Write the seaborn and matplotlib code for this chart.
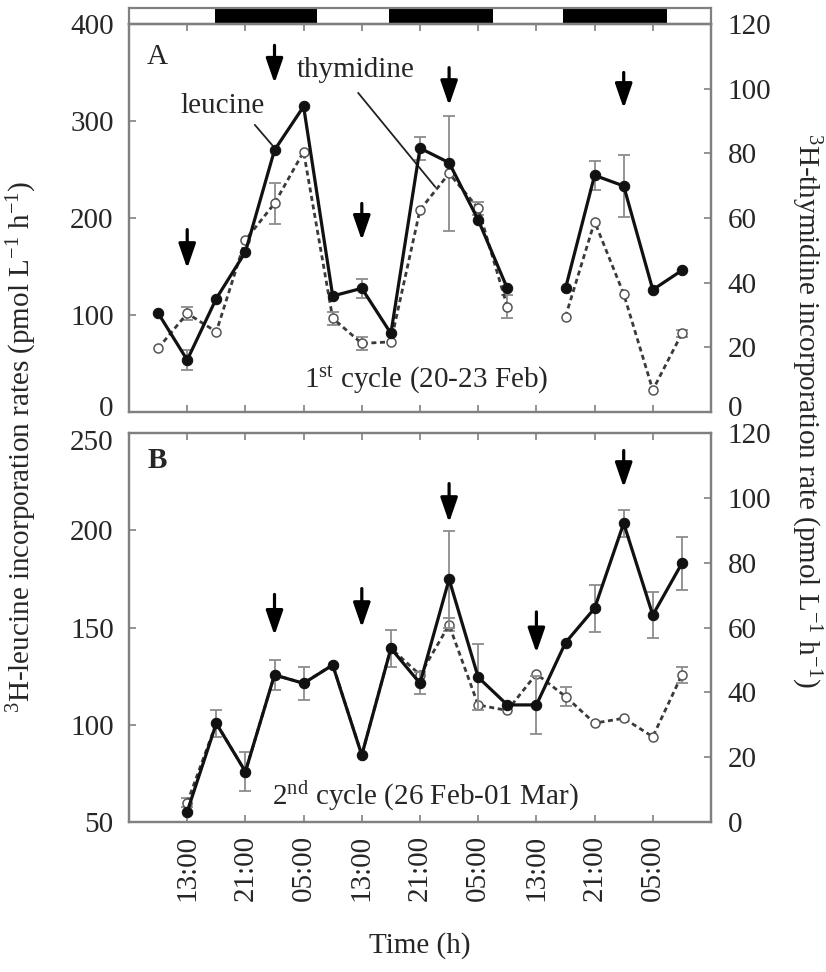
import numpy as np
import pandas as pd
import matplotlib
matplotlib.use("Agg")
import matplotlib.pyplot as plt
import matplotlib.transforms as mtransforms
import seaborn as sns

# ---------------- data (hours after 09:00 of day 1 of each cycle) ----------------
hours_a = [0, 4, 8, 12, 16, 20, 24, 28, 32, 36, 40, 44, 48, 56, 60, 64, 68, 72]
segment_a = [1] * 13 + [2] * 5
leucine_a = [102, 53.6, 117, 165, 270, 315, 119.6, 127.5, 81, 272, 257, 198, 127.5,
             127.5, 244, 233, 126, 146]
leucine_a_err = [0, 10, 0, 0, 0, 0, 0, 10, 0, 12, 0, 0, 0, 0, 15, 32, 0, 0]
thymidine_a = [19.7, 30.5, 24.8, 53.2, 64.5, 80.5, 29, 21.2, 21.7, 62.5, 73.8, 63, 32.6,
               29.5, 58.9, 36.5, 6.8, 24.3]
thymidine_a_err = [0, 2, 0, 0, 6.4, 0, 2, 2, 0, 0, 17.8, 2, 3.6, 0, 0, 0, 0, 1]

hours_b = [4, 8, 12, 16, 20, 24, 28, 32, 36, 40, 44, 48, 52, 56, 60, 64, 68, 72]
segment_b = [1] * 18
leucine_b = [55.3, 100.7, 75.9, 125.6, 121.3, 130.7, 84.4, 139.3, 121.3, 174.8, 124.4,
             110.2, 110.2, 142.2, 159.9, 203.6, 156.4, 183]
leucine_b_err = [0, 7, 10, 7.7, 8.6, 0, 0, 9.4, 5.6, 25, 17, 0, 15, 0, 12, 7, 12, 13.7]
thymidine_b = [6, 30.5, 15.5, 45.4, 42.8, 48.5, 20.7, 53.6, 45.4, 60.8, 36.1, 34.4, 45.7,
               38.7, 30.5, 32, 26.3, 45.4]
thymidine_b_err = [1.5, 0, 0, 0, 0, 0, 0, 0, 0, 2, 0, 0, 0, 3, 0, 0, 0, 2.5]

tick_hours = [4, 12, 20, 28, 36, 44, 52, 60, 68]
tick_labels = ["13:00", "21:00", "05:00"] * 3

night_start = [7.8, 31.8, 55.7]
night_end = [21.9, 46.0, 70.0]

# sampling-time arrows (x, top, tip) in leucine units
arrows_a_t = [4, 16, 28, 40, 64]
arrows_a_top = [188, 378, 215, 355, 350]
arrows_a_tip = [148, 339, 177, 316, 313]
arrows_b_t = [16, 28, 40, 52, 64]
arrows_b_top = [167, 170, 224, 158, 241]
arrows_b_tip = [146, 150, 204, 137, 222]

# ---------------- style ----------------
sns.set_theme(style="ticks")
plt.rcParams["font.family"] = ["Liberation Serif", "DejaVu Serif"]
plt.rcParams["mathtext.fontset"] = "custom"
plt.rcParams["mathtext.rm"] = "Liberation Serif"
plt.rcParams["mathtext.it"] = "Liberation Serif:italic"
plt.rcParams["mathtext.bf"] = "Liberation Serif:bold"

FS = 21
TXT = "#262626"
SP = "#808080"

df_a = pd.DataFrame({"t": hours_a, "seg": segment_a, "leu": leucine_a, "leu_err": leucine_a_err,
                     "thy": thymidine_a, "thy_err": thymidine_a_err})
df_b = pd.DataFrame({"t": hours_b, "seg": segment_b, "leu": leucine_b, "leu_err": leucine_b_err,
                     "thy": thymidine_b, "thy_err": thymidine_b_err})

W, H = 826, 972
fig = plt.figure(figsize=(W / 100, H / 100), dpi=100)
L, R = 129 / W, 711 / W
axA = fig.add_axes([L, 1 - 412 / H, R - L, (412 - 24) / H])
axB = fig.add_axes([L, 1 - 822 / H, R - L, (822 - 433) / H])
axBar = fig.add_axes([L, 1 - 24 / H, R - L, 16 / H])


def draw_panel(ax, df, ylim, yticks, arrows_t, arrows_top, arrows_tip):
    ax2 = ax.twinx()
    # thymidine (right axis)
    m = df["thy_err"] > 0
    ax2.errorbar(df.loc[m, "t"], df.loc[m, "thy"], yerr=df.loc[m, "thy_err"], fmt="none",
                 ecolor="#8c8c8c", elinewidth=1.3, capsize=4, capthick=1.3, zorder=1)
    sns.lineplot(data=df, x="t", y="thy", units="seg", estimator=None, ax=ax2,
                 color="#3a3a3a", lw=2.0, linestyle=(0, (1.8, 1.3)), marker="o",
                 markersize=6.5, markerfacecolor="white", markeredgecolor="#555555",
                 markeredgewidth=1.1, zorder=2)
    # leucine (left axis)
    m = df["leu_err"] > 0
    ax.errorbar(df.loc[m, "t"], df.loc[m, "leu"], yerr=df.loc[m, "leu_err"], fmt="none",
                ecolor="#8c8c8c", elinewidth=1.3, capsize=4, capthick=1.3, zorder=1)
    sns.lineplot(data=df, x="t", y="leu", units="seg", estimator=None, ax=ax,
                 color="#111111", lw=2.3, marker="o", markersize=7.5,
                 markerfacecolor="#111111", markeredgecolor="#111111", zorder=3)
    ax.set_zorder(ax2.get_zorder() + 1)
    ax.patch.set_visible(False)

    for t, top, tip in zip(arrows_t, arrows_top, arrows_tip):
        ax.annotate("", xy=(t, tip), xytext=(t, top),
                    arrowprops=dict(arrowstyle="-|>,head_length=0.75,head_width=0.26",
                                    lw=2.3, color="black", shrinkA=0, shrinkB=0,
                                    mutation_scale=20))

    ax.set_xlim(-4, 76)
    ax.set_ylim(*ylim)
    ax.set_yticks(yticks)
    ax2.set_ylim(0, 120)
    ax2.set_yticks(range(0, 121, 20))
    ax.set_xticks(tick_hours)
    ax.set_xlabel("")
    ax.set_ylabel("")
    ax2.set_ylabel("")
    ax.tick_params(axis="both", direction="in", length=5, width=1.2, color=SP,
                   labelsize=FS, labelcolor=TXT, top=True, right=False, pad=11)
    ax2.tick_params(axis="y", direction="in", length=5, width=1.2, color=SP,
                    labelsize=FS, labelcolor=TXT, pad=12)
    ax2.tick_params(axis="x", top=False, bottom=False, labelbottom=False)
    for a in (ax, ax2):
        for s in a.spines.values():
            s.set_color(SP)
            s.set_linewidth(1.6)
    return ax2


axA2 = draw_panel(axA, df_a, (0, 400), range(0, 401, 100), arrows_a_t, arrows_a_top, arrows_a_tip)
axB2 = draw_panel(axB, df_b, (50, 250), range(50, 251, 50), arrows_b_t, arrows_b_top, arrows_b_tip)

axA.tick_params(axis="x", labelbottom=False)
axB.set_xticklabels(tick_labels, rotation=90, fontsize=FS, color=TXT)
axB.tick_params(axis="x", pad=9)

# day / night bar
axBar.set_xlim(-4, 76)
axBar.set_ylim(0, 1)
for s, e in zip(night_start, night_end):
    axBar.axvspan(s, e, color="black", lw=0)
axBar.set_xticks([])
axBar.set_yticks([])
for s in axBar.spines.values():
    s.set_color(SP)
    s.set_linewidth(1.6)

# panel annotations
axA.text(0.048, 0.915, "A", transform=axA.transAxes, fontsize=FS, color=TXT,
         ha="center", va="center")
axB.text(0.048, 0.93, "B", transform=axB.transAxes, fontsize=FS, color=TXT,
         ha="center", va="center", fontweight="bold")
axA.text(0.51, 0.082, r"1$^{\rm st}$ cycle (20-23 Feb)", transform=axA.transAxes,
         fontsize=FS, color=TXT, ha="center", va="center")
axB.text(0.51, 0.067, r"2$^{\rm nd}$ cycle (26 Feb-01 Mar)", transform=axB.transAxes,
         fontsize=FS, color=TXT, ha="center", va="center")

axA.text(8.9, 315, "leucine", fontsize=FS, color=TXT, ha="center", va="center")
axA.plot([13.3, 15.7], [296, 275], color="#222222", lw=1.3)
axA.text(27.1, 353, "thymidine", fontsize=FS, color=TXT, ha="center", va="center")
axA.plot([27.5, 38.1], [329, 232], color="#222222", lw=1.3)

# axis labels
fig.text(22 / W, 1 - 447 / H,
         r"$^{3}$H-leucine incorporation rates (pmol L$^{-1}$ h$^{-1}$)",
         rotation=90, fontsize=FS, color=TXT, ha="center", va="center")
fig.text(806 / W, 1 - 410 / H,
         r"$^{3}$H-thymidine incorporation rate (pmol L$^{-1}$ h$^{-1}$)",
         rotation=270, fontsize=FS, color=TXT, ha="center", va="center")
fig.text(420 / W, 1 - 946 / H, "Time (h)", fontsize=FS, color=TXT,
         ha="center", va="center")

# nudge the touching tick labels between the panels apart
down = mtransforms.ScaledTranslation(0, -7 / 100, fig.dpi_scale_trans)
up = mtransforms.ScaledTranslation(0, 6 / 100, fig.dpi_scale_trans)
lab = axB.yaxis.get_major_ticks()[-1].label1
lab.set_transform(lab.get_transform() + down)
lab = axA2.yaxis.get_major_ticks()[0].label2
lab.set_transform(lab.get_transform() + up)
lab = axA.yaxis.get_major_ticks()[0].label1
lab.set_transform(lab.get_transform() + up)

fig.savefig("out.png", dpi=100)
